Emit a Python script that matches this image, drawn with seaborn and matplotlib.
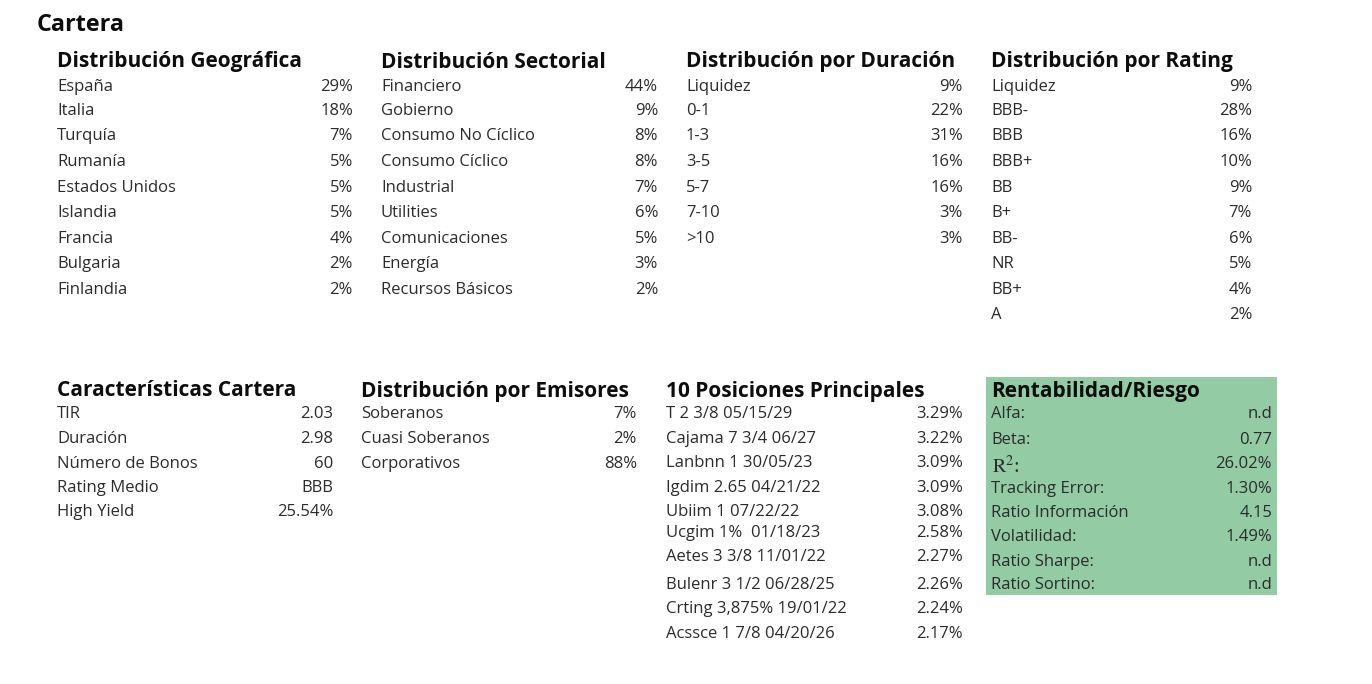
import matplotlib
matplotlib.use("Agg")
import matplotlib.pyplot as plt
import seaborn as sns
from matplotlib.patches import Rectangle

sns.set_theme(style="white")
plt.rcParams['font.family'] = ['Open Sans', 'DejaVu Sans']
plt.rcParams['mathtext.fontset'] = 'stix'

# ---- data ----
geo_labels = ["España", "Italia", "Turquía", "Rumanía", "Estados Unidos", "Islandia", "Francia", "Bulgaria", "Finlandia"]
geo_values = [29, 18, 7, 5, 5, 5, 4, 2, 2]

sector_labels = ["Financiero", "Gobierno", "Consumo No Cíclico", "Consumo Cíclico", "Industrial", "Utilities",
                 "Comunicaciones", "Energía", "Recursos Básicos"]
sector_values = [44, 9, 8, 8, 7, 6, 5, 3, 2]

dur_labels = ["Liquidez", "0-1", "1-3", "3-5", "5-7", "7-10", ">10"]
dur_values = [9, 22, 31, 16, 16, 3, 3]

rating_labels = ["Liquidez", "BBB-", "BBB", "BBB+", "BB", "B+", "BB-", "NR", "BB+", "A"]
rating_values = [9, 28, 16, 10, 9, 7, 6, 5, 4, 2]

carac_labels = ["TIR", "Duración", "Número de Bonos", "Rating Medio", "High Yield"]
carac_values = ["2.03", "2.98", "60", "BBB", "25.54%"]

emis_labels = ["Soberanos", "Cuasi Soberanos", "Corporativos"]
emis_values = [7, 2, 88]

pos_labels = ["T 2 3/8 05/15/29", "Cajama 7 3/4 06/27", "Lanbnn 1 30/05/23", "Igdim 2.65 04/21/22",
              "Ubiim 1 07/22/22", "Ucgim 1%  01/18/23", "Aetes 3 3/8 11/01/22", "Bulenr 3 1/2 06/28/25",
              "Crting 3,875% 19/01/22", "Acssce 1 7/8 04/20/26"]
pos_values = [3.29, 3.22, 3.09, 3.09, 3.08, 2.58, 2.27, 2.26, 2.24, 2.17]

rr_labels = ["Alfa:", "Beta:", r"$\mathrm{R}^{2}$:", "Tracking Error:", "Ratio Información", "Volatilidad:",
             "Ratio Sharpe:", "Ratio Sortino:"]
rr_values = ["n.d", "0.77", "26.02%", "1.30%", "4.15", "1.49%", "n.d", "n.d"]

# ---- figure ----
W, H = 1372, 684
fig = plt.figure(figsize=(W / 100, H / 100), dpi=100)
ax = fig.add_axes([0, 0, 1, 1])
ax.set_xlim(0, W)
ax.set_ylim(H, 0)
ax.axis("off")

TXT = "#2b2b2b"
HDR = "#0d0d0d"
BODY_FS = 12.0
HDR_FS = 15.0
DY = 2

ax.text(37, 23 + DY, "Cartera", fontsize=16.8, fontweight="bold", color=HDR, va="center", ha="left")

# green box for Rentabilidad/Riesgo
ax.add_patch(Rectangle((986, 377), 291, 218, facecolor="#93cba5", edgecolor="none", zorder=0))


def block(x_label, x_value, y_header, title, labels, values, ys, serif_idx=None):
    ax.text(x_label, y_header + DY, title, fontsize=HDR_FS, fontweight="bold", color=HDR, va="center", ha="left")
    for i, (lab, val, y) in enumerate(zip(labels, values, ys)):
        if serif_idx is not None and i == serif_idx:
            ax.text(x_label + 1, y + DY + 3, lab, fontsize=14.5, color=TXT, va="center", ha="left",
                    family=["Liberation Serif", "DejaVu Serif"])
        else:
            ax.text(x_label, y + DY, lab, fontsize=BODY_FS, color=TXT, va="center", ha="left")
        ax.text(x_value, y + DY, val, fontsize=BODY_FS, color=TXT, va="center", ha="right")


pct = lambda v: [f"{x}%" for x in v]
pct2 = lambda v: [f"{x:.2f}%" for x in v]

top_ys = [85, 109, 134, 160, 186, 211, 237, 262, 288, 313]
block(57, 353, 60, "Distribución Geográfica", geo_labels, pct(geo_values), top_ys)
block(381, 658, 60, "Distribución Sectorial", sector_labels, pct(sector_values), top_ys)
block(686, 963, 60, "Distribución por Duración", dur_labels, pct(dur_values), top_ys)
block(991, 1252, 60, "Distribución por Rating", rating_labels, pct(rating_values), top_ys)

bot_ys = [412, 437, 462, 486, 510]
block(57, 333, 389, "Características Cartera", carac_labels, carac_values, bot_ys)
block(361, 637, 389, "Distribución por Emisores", emis_labels, pct(emis_values), bot_ys)
pos_ys = [412, 437, 461, 486, 510, 531, 555, 583, 607, 632]
block(666, 963, 389, "10 Posiciones Principales", pos_labels, pct2(pos_values), pos_ys)
rr_ys = [412, 438, 462, 487, 511, 535, 560, 583]
block(991, 1272, 389, "Rentabilidad/Riesgo", rr_labels, rr_values, rr_ys, serif_idx=2)

fig.savefig("out.png", dpi=100, facecolor="white")
